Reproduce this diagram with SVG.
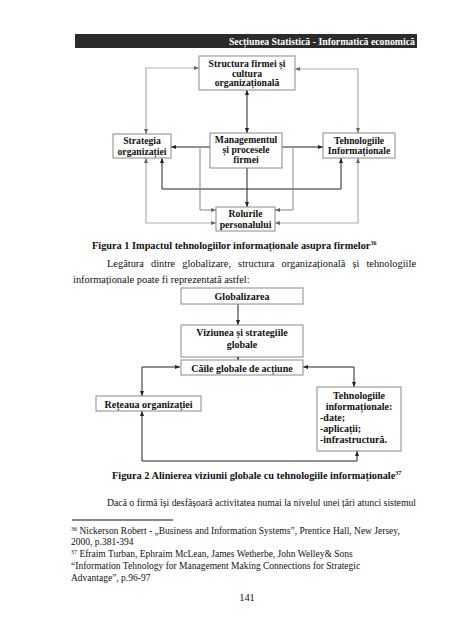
<svg xmlns="http://www.w3.org/2000/svg" width="453" height="640" viewBox="0 0 453 640">
<style>
.bg{fill:#fff}
.box{fill:#fff;stroke:#8a8a8a;stroke-width:1}
.bt{font-family:"Liberation Serif","Times New Roman",serif;font-weight:bold;fill:#111;text-anchor:middle}
.bl{font-family:"Liberation Serif","Times New Roman",serif;font-weight:bold;fill:#111;text-anchor:start}
.f1{font-size:9.7px}
.f2{font-size:10px}
.cd{fill:none;stroke:#222;stroke-width:1}
.cg{fill:none;stroke:#b0b0b0;stroke-width:1.2}
.cm{fill:none;stroke:#888;stroke-width:1}
.body{font-family:"Liberation Serif","Times New Roman",serif;font-size:10.4px;fill:#111}
.fn{font-family:"Liberation Serif","Times New Roman",serif;font-size:9.5px;fill:#111}
.cap{font-family:"Liberation Serif","Times New Roman",serif;font-size:10.3px;font-weight:bold;fill:#111}
.sup{font-size:6px}
</style>
<defs>
<marker id="ad" viewBox="0 0 10 10" refX="10" refY="5" markerWidth="5" markerHeight="5" markerUnits="userSpaceOnUse" orient="auto-start-reverse"><path d="M0,1 L10,5 L0,9 z" fill="#222"/></marker>
<marker id="ag" viewBox="0 0 10 10" refX="10" refY="5" markerWidth="5" markerHeight="5" markerUnits="userSpaceOnUse" orient="auto-start-reverse"><path d="M0,1 L10,5 L0,9 z" fill="#666"/></marker>
</defs>
<rect class="bg" x="0" y="0" width="453" height="640"/>

<g id="header">
<rect x="75" y="34" width="342" height="14" fill="#2b2b2b"/>
<text x="415" y="45" font-family="'Liberation Serif','Times New Roman',serif" font-size="9.8px" font-weight="bold" fill="#fff" text-anchor="end">Secțiunea Statistică  - Informatică economică</text>
</g>

<g id="connectors-fig1">
<path class="cg" d="M199,68 H146 V134" marker-start="url(#ag)" marker-end="url(#ag)"/>
<path class="cg" d="M295,69 H358 V133" marker-start="url(#ag)" marker-end="url(#ag)"/>
<path class="cd" d="M247,90 V133" marker-start="url(#ad)" marker-end="url(#ad)"/>
<path class="cd" d="M210,147 H171" marker-end="url(#ad)"/>
<path class="cd" d="M282,147 H323" marker-end="url(#ad)"/>
<path class="cd" d="M162,158 V189 H341 V158" marker-start="url(#ad)" marker-end="url(#ad)"/>
<path class="cd" d="M247,168 V207" marker-end="url(#ad)"/>
<path class="cm" d="M200,147 V210 H216" marker-end="url(#ag)"/>
<path class="cm" d="M293,147 V210 H275" marker-end="url(#ag)"/>
<path class="cg" d="M146,158 V223 H216" marker-start="url(#ag)" marker-end="url(#ag)"/>
<path class="cg" d="M358,158 V223 H275" marker-start="url(#ag)" marker-end="url(#ag)"/>
</g>

<g id="n-structura">
<rect class="box" x="199" y="56" width="96" height="34"/>
<text class="bt f1" x="247" y="67">Structura firmei și</text>
<text class="bt f1" x="247" y="76.5">cultura</text>
<text class="bt f1" x="247" y="86">organizațională</text>
</g>
<g id="n-strategia">
<rect class="box" x="113" y="134" width="58" height="24"/>
<text class="bt f1" x="142" y="144">Strategia</text>
<text class="bt f1" x="142" y="154.5">organizației</text>
</g>
<g id="n-management">
<rect class="box" x="210" y="133" width="72" height="35"/>
<text class="bt f1" x="246" y="143">Managementul</text>
<text class="bt f1" x="246" y="152.5">și procesele</text>
<text class="bt f1" x="246" y="162.5">firmei</text>
</g>
<g id="n-tehnologiile1">
<rect class="box" x="323" y="133" width="72" height="25"/>
<text class="bt f1" x="359" y="144">Tehnologiile</text>
<text class="bt f1" x="359" y="154">Informaționale</text>
</g>
<g id="n-rolurile">
<rect class="box" x="216" y="207" width="59" height="24"/>
<text class="bt f1" x="245.5" y="217">Rolurile</text>
<text class="bt f1" x="245.5" y="227.5">personalului</text>
</g>

<text class="cap" x="92" y="249">Figura 1 Impactul tehnologiilor informaționale asupra firmelor<tspan class="sup" dy="-4">36</tspan></text>

<text class="body" x="107" y="267" word-spacing="4.5" textLength="309" lengthAdjust="spacing">Legătura dintre globalizare, structura organizațională și tehnologiile</text>
<text class="body" x="73" y="283">informaționale poate fi reprezentată astfel:</text>

<g id="connectors-fig2">
<path class="cd" d="M238,304 V325" marker-end="url(#ad)"/>
<path class="cd" d="M238,357 V360" marker-end="url(#ad)"/>
<path class="cd" d="M180,367 H142 V396" marker-start="url(#ad)" marker-end="url(#ad)"/>
<path class="cd" d="M303,367 H354 V387" marker-start="url(#ad)" marker-end="url(#ad)"/>
<path class="cd" d="M142,411 V461 H357 V451" marker-start="url(#ad)" marker-end="url(#ad)"/>
</g>

<g id="n-globalizarea">
<rect class="box" x="181" y="288" width="122" height="16"/>
<text class="bt f2" x="242" y="300">Globalizarea</text>
</g>
<g id="n-viziunea">
<rect class="box" x="181" y="325" width="122" height="32"/>
<text class="bt f2" x="242" y="336">Viziunea și strategiile</text>
<text class="bt f2" x="242" y="348">globale</text>
</g>
<g id="n-caile">
<rect class="box" x="181" y="360" width="122" height="15"/>
<text class="bt f2" x="242" y="371.5">Căile globale de acțiune</text>
</g>
<g id="n-reteaua">
<rect class="box" x="96" y="396" width="105" height="15"/>
<text class="bt f2" x="148.5" y="407.5">Rețeaua organizației</text>
</g>
<g id="n-tehnologiile2">
<rect class="box" x="317" y="387" width="84" height="64"/>
<text class="bt f2" x="359" y="399">Tehnologiile</text>
<text class="bt f2" x="359" y="410">informaționale:</text>
<text class="bl f2" x="320" y="421">-date;</text>
<text class="bl f2" x="320" y="432">-aplicații;</text>
<text class="bl f2" x="320" y="443">-infrastructură.</text>
</g>

<text class="cap" x="112" y="479">Figura 2 Alinierea viziunii globale cu tehnologiile informaționale<tspan class="sup" dy="-4">37</tspan></text>

<text class="body" x="107" y="506" textLength="309" lengthAdjust="spacingAndGlyphs">Dacă o firmă își desfășoară activitatea numai la nivelul unei țări atunci sistemul</text>

<line x1="72" y1="520" x2="173" y2="520" stroke="#111" stroke-width="1"/>

<text class="fn" x="71" y="533.5"><tspan class="sup" dy="-3">36</tspan><tspan dy="3"> Nickerson Robert - „Business and Information Systems”, Prentice  Hall, New Jersey,</tspan></text>
<text class="fn" x="71" y="545.3">2000, p.381-394</text>
<text class="fn" x="71" y="557.1"><tspan class="sup" dy="-3">37</tspan><tspan dy="3"> Efraim Turban, Ephraim McLean, James Wetherbe, John Welley&amp; Sons</tspan></text>
<text class="fn" x="71" y="568.9">“Information Tehnology for Management Making Connections for Strategic</text>
<text class="fn" x="71" y="580.7">Advantage”, p.96-97</text>

<text class="body" x="247" y="601" text-anchor="middle">141</text>
</svg>
